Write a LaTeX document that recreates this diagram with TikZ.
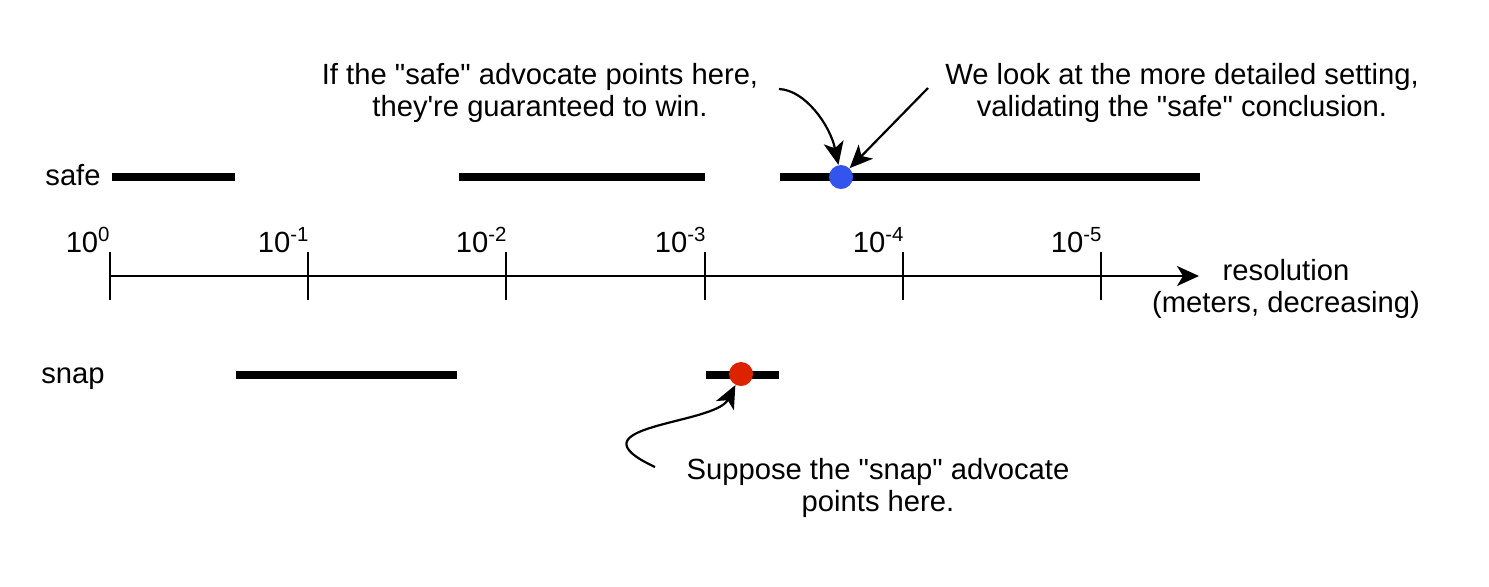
\documentclass[tikz,border=0pt]{standalone}
\usepackage{fontspec}
\setmainfont{Liberation Sans}
\usetikzlibrary{arrows.meta}

\definecolor{safeblue}{RGB}{51,85,238}
\definecolor{snapred}{RGB}{221,34,0}

\tikzset{
	bar/.style={line width=4pt},
	axtick/.style={line width=1pt},
	dot/.style={circle, inner sep=0pt, minimum size=12pt},
	note/.style={align=center, font=\fontsize{14.6}{16.3}\selectfont},
	expo/.style={note, anchor=base east, inner sep=0pt},
	pointer/.style={line width=1.1pt, -{Stealth[length=11.5pt,width=10pt,inset=3pt]}}
}

\begin{document}
\begin{tikzpicture}[x=0.5pt, y=-0.5pt]
		%%%%% START %%%%%
		\useasboundingbox (0,0) rectangle (1489,586);
		
		% axis
		\draw[axtick, -{Stealth[length=11pt,width=10pt,inset=3pt]}] (110,276) -- (1199,276);
		\draw[axtick] (110,252) -- (110,300);
		\draw[axtick] (308,252) -- (308,300);
		\draw[axtick] (506,252) -- (506,300);
		\draw[axtick] (705,252) -- (705,300);
		\draw[axtick] (903,252) -- (903,300);
		\draw[axtick] (1101,252) -- (1101,300);
		
		\node[expo] (e0) at (111,252) {10\textsuperscript{0}};
		\node[expo] (e1) at (310,252) {10\textsuperscript{-1}};
		\node[expo] (e2) at (508,252) {10\textsuperscript{-2}};
		\node[expo] (e3) at (707,252) {10\textsuperscript{-3}};
		\node[expo] (e4) at (905,252) {10\textsuperscript{-4}};
		\node[expo] (e5) at (1103,252) {10\textsuperscript{-5}};
		
		\node[note] (res) at (1286,289) {resolution\\(meters, decreasing)};
		
		% safe row
		\node[note, anchor=base east, inner sep=0pt] (safe) at (101,185) {safe};
		\draw[bar] (112,177) -- (235,177);
		\draw[bar] (459,177) -- (705,177);
		\draw[bar] (780,177) -- (1200,177);
		\node[dot, fill=safeblue] (bluedot) at (841,177) {};
		
		% snap row
		\node[note, anchor=base east, inner sep=0pt] (snap) at (105,383) {snap};
		\draw[bar] (236,375) -- (457,375);
		\draw[bar] (706,375) -- (779,375);
		\node[dot, fill=snapred] (reddot) at (741,374) {};
		
		% notes
		\node[note] (win) at (540,93) {If the \textquotedbl safe\textquotedbl{} advocate points here,\\they\textquotesingle re guaranteed to win.};
		\node[note] (look) at (1182,93) {We look at the more detailed setting,\\validating the \textquotedbl safe\textquotedbl{} conclusion.};
		\node[note] (suppose) at (878,488) {Suppose the \textquotedbl snap\textquotedbl{} advocate\\points here.};
		
		\coordinate (winend) at (779,89);
		\coordinate (lookend) at (928,88);
		\coordinate (supposeend) at (655,467);
		
		\draw[pointer] (winend) .. controls (805,90) and (830,125) .. (bluedot);
		\draw[pointer] (lookend) -- (bluedot);
		\draw[pointer] (supposeend) .. controls (565,425) and (715,425) .. (reddot);
		
		%%%%% END %%%%%
\end{tikzpicture}
\end{document}
